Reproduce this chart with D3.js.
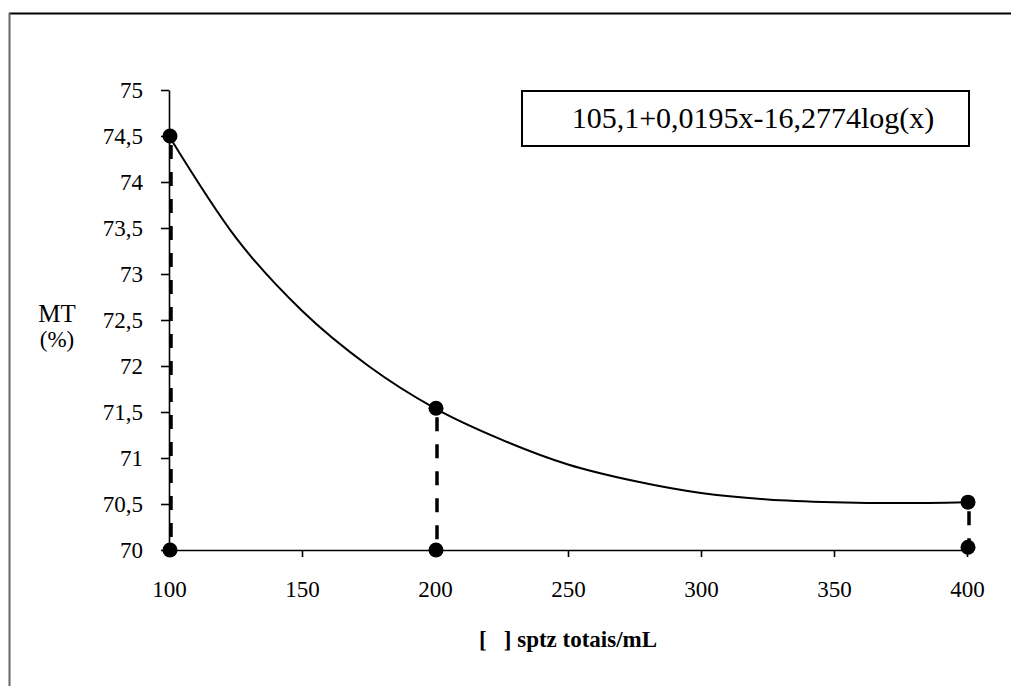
<!DOCTYPE html>
<html>
<head>
<meta charset="utf-8">
<script src="https://cdn.jsdelivr.net/npm/d3@7"></script>
<style>
  body { margin: 0; background: #fff; }
  svg { display: block; }
  svg text { font-family: "Liberation Serif", "Times New Roman", serif; }
  .tick text { fill: #000; }
</style>
</head>
<body>
<svg class="chart" width="1011" height="686"></svg>
<script>
// measured points (x = concentration, y = MT %)
const concentrations = [100, 200, 400];
const mtValues = [74.5, 71.54, 70.52];
const baseValues = [70, 70, 70.03];

// fitted curve
const curveX = [100, 125, 150, 175, 200, 225, 250, 275, 300, 325, 350, 375, 400];
const curveY = [74.5, 73.4, 72.6, 72.0, 71.54, 71.2, 70.93, 70.75, 70.62, 70.55, 70.52, 70.51, 70.52];

const xTicks = [100, 150, 200, 250, 300, 350, 400];
const yTicks = [70, 70.5, 71, 71.5, 72, 72.5, 73, 73.5, 74, 74.5, 75];
const equation = "105,1+0,0195x-16,2774log(x)";

const svg = d3.select("svg.chart");

const ptBR = d3.formatLocale({ decimal: ",", thousands: ".", grouping: [3], currency: ["", ""] });
const fmt = ptBR.format(".1~f");

const x = d3.scaleLinear().domain([100, 400]).range([169, 967]);
const y = d3.scaleLinear().domain([70, 75]).range([550, 90]);

//* frame
svg.append("line").attr("x1", 9).attr("x2", 1011).attr("y1", 13.5).attr("y2", 13.5)
	.attr("stroke", "#000").attr("stroke-width", 2);
svg.append("line").attr("x1", 9.5).attr("x2", 9.5).attr("y1", 13).attr("y2", 686)
	.attr("stroke", "#666").attr("stroke-width", 2);

//* axes
const yAxis = svg.append("g")
	.attr("transform", `translate(${x(100)},0)`)
	.call(d3.axisLeft(y).tickValues(yTicks).tickFormat(fmt).tickSize(8).tickSizeOuter(0).tickPadding(18));
yAxis.attr("font-family", null);
yAxis.selectAll("text").attr("font-size", 23).attr("fill", "#222");

const xAxis = svg.append("g")
	.attr("transform", `translate(0,${y(70)})`)
	.call(d3.axisBottom(x).tickValues(xTicks).tickFormat(d3.format("d")).tickSize(7).tickSizeOuter(0).tickPadding(24));
xAxis.attr("font-family", null);
xAxis.selectAll("text").attr("font-size", 23);

svg.selectAll(".domain, .tick line").attr("stroke", "#000").attr("stroke-width", 1.6);

//* drop lines
svg.append("g")
	.selectAll("line")
	.data(concentrations)
	.enter()
	.append("line")
	.attr("x1", (d) => x(d) + 2)
	.attr("x2", (d) => x(d) + 2)
	.attr("y1", (_, i) => y(mtValues[i]) + 9)
	.attr("y2", (_, i) => y(baseValues[i]))
	.attr("stroke", "#000")
	.attr("stroke-width", 3.5)
	.attr("stroke-dasharray", "14 13");

//* curve
const line = d3.line()
	.x((d) => x(d[0]))
	.y((d) => y(d[1]))
	.curve(d3.curveMonotoneX);
svg.append("path")
	.datum(curveX.map((d, i) => [d, curveY[i]]))
	.attr("d", line)
	.attr("fill", "none")
	.attr("stroke", "#000")
	.attr("stroke-width", 2);

//* dots
svg.append("g")
	.selectAll("circle")
	.data(concentrations.map((d, i) => [d, mtValues[i]]).concat(concentrations.map((d, i) => [d, baseValues[i]])))
	.enter()
	.append("circle")
	.attr("cx", (d) => x(d[0]) + 1)
	.attr("cy", (d) => y(d[1]))
	.attr("r", 7.5)
	.attr("fill", "#000");

//* equation box
svg.append("rect")
	.attr("x", 522).attr("y", 91).attr("width", 447).attr("height", 55)
	.attr("fill", "#fff").attr("stroke", "#000").attr("stroke-width", 2);
svg.append("text")
	.attr("x", 753).attr("y", 128)
	.attr("text-anchor", "middle")
	.attr("font-size", 30)
	.text(equation);

//* axis titles
svg.append("text").attr("x", 57).attr("y", 322).attr("text-anchor", "middle")
	.attr("font-size", 25).text("MT");
svg.append("text").attr("x", 57).attr("y", 347).attr("text-anchor", "middle")
	.attr("font-size", 23).text("(%)");
svg.append("text").attr("x", 568).attr("y", 647).attr("text-anchor", "middle")
	.attr("font-size", 23).attr("font-weight", "bold")
	.attr("xml:space", "preserve")
	.text("[   ] sptz totais/mL");
</script>
</body>
</html>
